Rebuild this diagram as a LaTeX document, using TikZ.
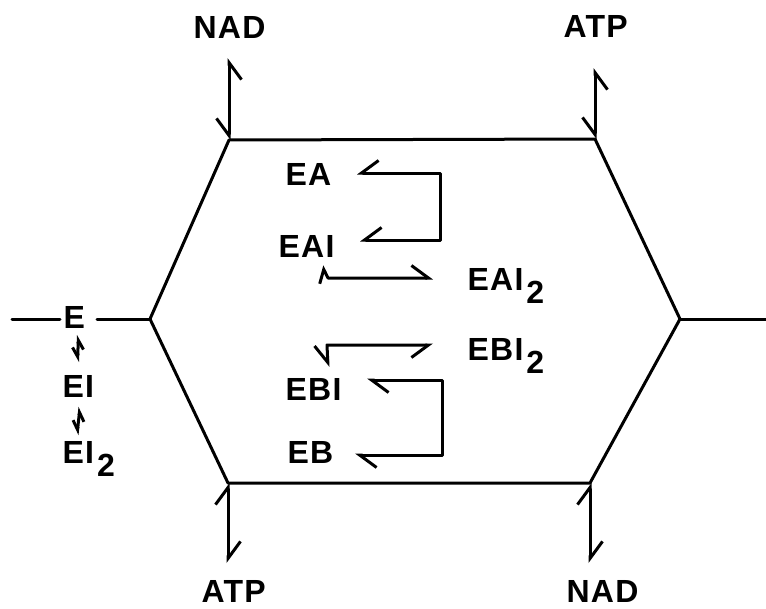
\documentclass[tikz,border=0pt]{standalone}
\usepackage{fontspec}
\usetikzlibrary{arrows.meta}
\newfontfamily\labfont[LetterSpace=4]{Liberation Sans}
\newcommand{\subtwo}{\kern3pt\raisebox{-13pt}{2}}
\tikzset{
  every picture/.style={line width=3pt, line join=round, line cap=round},
  lab/.style={inner sep=0pt, anchor=base west, font=\labfont\bfseries\fontsize{32}{32}\selectfont},
  harpR/.style={{Straight Barb[right,length=17pt,width=25pt]}-{Straight Barb[right,length=17pt,width=25pt]}},
  harpL/.style={{Straight Barb[left,length=17pt,width=25pt]}-{Straight Barb[left,length=17pt,width=25pt]}},
  shortL/.style={{Straight Barb[left,length=11pt,width=20pt]}-{Straight Barb[left,length=17pt,width=25pt]}},
  smallR/.style={{Straight Barb[right,length=9pt,width=11pt]}-{Straight Barb[right,length=9pt,width=11pt]}},
}
\begin{document}
\begin{tikzpicture}[x=1pt,y=-1pt]
\useasboundingbox (0,0) rectangle (766,608);

% hexagon corners
\coordinate (tl) at (229,140);
\coordinate (tr) at (595,139);
\coordinate (r)  at (680,319);
\coordinate (br) at (590,483);
\coordinate (bl) at (228,483);
\coordinate (l)  at (150,319);
\draw (tl) -- (tr) -- (r) -- (br) -- (bl) -- (l) -- cycle;

% side stubs
\coordinate (rEnd) at (766,319);
\coordinate (eR) at (97,319);
\coordinate (lEnd) at (12,319);
\coordinate (eL) at (60,319);
\draw (r) -- (rEnd);
\draw (l) -- (eR);
\draw (eL) -- (lEnd);

% labels
\node[lab] (nadT) at (192,38) {NAD};
\node[lab] (atpT) at (562,37) {ATP};
\node[lab] (atpB) at (200,602) {ATP};
\node[lab] (nadB) at (565,602) {NAD};
\node[lab] (E)   at (62,328) {E};
\node[lab] (EI)  at (61,397) {EI};
\node[lab] (EI2) at (61,463) {EI\subtwo};
\node[lab] (EA)  at (284,185) {EA};
\node[lab] (EAI) at (277,257) {EAI};
\node[lab] (EAI2) at (466,290) {EAI\subtwo};
\node[lab] (EBI2) at (466,360) {EBI\subtwo};
\node[lab] (EBI) at (284,400) {EBI};
\node[lab] (EB)  at (286,463) {EB};

% cofactor exchanges at the corners
\coordinate (nadTtip) at (229,58);
\coordinate (atpTtip) at (595,68);
\coordinate (atpBtip) at (228,563);
\coordinate (nadBtip) at (590,563);
\draw[harpR] (tl) -- (nadTtip);
\draw[harpR] (tr) -- (atpTtip);
\draw[harpL] (bl) -- (atpBtip);
\draw[harpL] (br) -- (nadBtip);

% free enzyme and inhibitor complexes
\coordinate (e1a) at (77.5,362);
\coordinate (e1b) at (78.5,335);
\coordinate (e2a) at (77,435);
\coordinate (e2b) at (80,407);
\draw[smallR] (e1a) -- (e1b);
\draw[smallR] (e2a) -- (e2b);

% upper branch
\coordinate (eaTip) at (357,173);
\coordinate (eaiTip) at (360,240);
\draw[harpR] (eaTip) -- (440,173) |- (eaiTip);
\coordinate (eaiUp) at (322,266);
\coordinate (eai2Tip) at (433,278);
\draw[shortL] (eaiUp) -- (328,278) -- (eai2Tip);

% lower branch
\coordinate (ebiDown) at (328,367);
\coordinate (ebi2Tip) at (433,345);
\draw[harpR] (ebiDown) -- (327,345) -- (ebi2Tip);
\coordinate (ebiTip) at (367,380);
\coordinate (ebTip) at (355,455);
\draw[harpL] (ebiTip) -- (442,380) |- (ebTip);
\end{tikzpicture}
\end{document}
